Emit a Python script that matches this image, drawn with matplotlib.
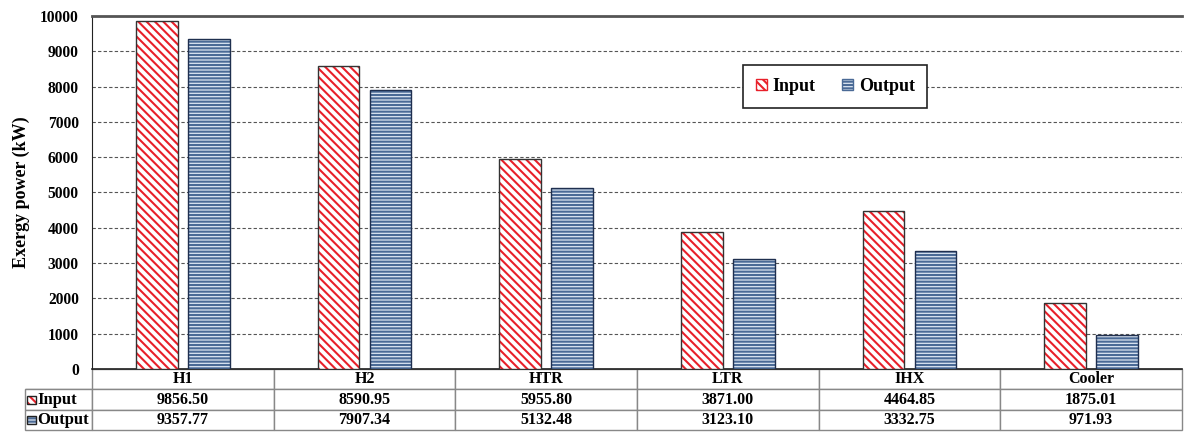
import numpy as np
import matplotlib.pyplot as plt
from matplotlib.patches import Rectangle

equipos = ['H1', 'H2', 'HTR', 'LTR', 'IHX', 'Cooler']
entrada = [9856.50, 8590.95, 5955.80, 3871.00, 4464.85, 1875.01]
salida = [9357.77, 7907.34, 5132.48, 3123.10, 3332.75, 971.93]
series = ['Input', 'Output']

plt.rcParams['font.family'] = ['Liberation Serif', 'DejaVu Serif']
plt.rcParams['font.weight'] = 'bold'
plt.rcParams['hatch.linewidth'] = 1.5

fig = plt.figure(figsize=(11.88, 4.33), dpi=100)
ax = fig.add_axes([92 / 1188, 1 - 369 / 433, 1090 / 1188, 353 / 433])

x = np.arange(len(equipos))
ancho = 0.23
desp = 0.143

rojo = '#e8202a'
azul_fondo = '#dbe5f1'
azul_linea = '#4a6a96'

# barras con trama (el color de la trama sale del edgecolor)
ax.bar(x - desp, entrada, ancho, color='white', edgecolor=rojo, hatch='\\\\\\\\', linewidth=0, zorder=3)
ax.bar(x - desp, entrada, ancho, fill=False, edgecolor='#333333', linewidth=1.0, zorder=4)
ax.bar(x + desp, salida, ancho, color=azul_fondo, edgecolor=azul_linea, hatch='-----', linewidth=0, zorder=3)
ax.bar(x + desp, salida, ancho, fill=False, edgecolor='#1f2f4f', linewidth=1.0, zorder=4)

ax.set_xlim(-0.5, len(equipos) - 0.5)
ax.set_ylim(0, 10000)
ax.set_yticks(np.arange(0, 10001, 1000))
ax.tick_params(axis='y', length=0, labelsize=11.2, pad=9.5)
ax.set_xticks([])
for lbl in ax.get_yticklabels():
    lbl.set_fontweight('bold')
ax.yaxis.grid(True, linestyle=(0, (3, 2)), color='#555555', linewidth=0.8, zorder=0)
ax.set_axisbelow(True)
ax.set_ylabel('Exergy power (kW)', fontsize=13, fontweight='bold')
ax.yaxis.set_label_coords(-0.057, 0.5)

ax.spines['right'].set_visible(False)
ax.spines['top'].set_color('#555555')
ax.spines['top'].set_linewidth(2)
ax.spines['left'].set_color('#222222')
ax.spines['bottom'].set_color('#222222')
ax.spines['bottom'].set_linewidth(1.2)

# leyenda
h1 = Rectangle((0, 0), 1, 1, facecolor='white', edgecolor=rojo, hatch='\\\\\\\\')
h2 = Rectangle((0, 0), 1, 1, facecolor=azul_fondo, edgecolor=azul_linea, hatch='-----')
leg = ax.legend([h1, h2], series, loc='center', bbox_to_anchor=(0.682, 0.80), ncol=2,
                fancybox=False, framealpha=1, edgecolor='#222222',
                prop={'family': 'Liberation Serif', 'weight': 'bold', 'size': 13},
                handlelength=0.6, handleheight=0.6, handletextpad=0.3, columnspacing=1.5,
                borderpad=0.7, borderaxespad=0)
leg.get_frame().set_linewidth(1.2)

# tabla de datos debajo del gráfico
celdas = [[''] + equipos,
          ['Input'] + ['%.2f' % v for v in entrada],
          ['Output'] + ['%.2f' % v for v in salida]]
izq = (92 - 25) / 1090
anchos = [izq] + [1 / 6] * 6
tabla = ax.table(cellText=celdas, colWidths=anchos, cellLoc='center',
                 bbox=[-izq, -61 / 353, 1 + izq, 61 / 353])
tabla.auto_set_font_size(False)
for (f, c), celda in tabla.get_celld().items():
    celda.set_edgecolor('#888888')
    celda.set_linewidth(1.0)
    celda.get_text().set_fontsize(11.5)
    celda.get_text().set_fontweight('bold')
    if f == 0 and c == 0:
        celda.visible_edges = 'B'
    if c == 0 and f > 0:
        celda.get_text().set_ha('left')
        celda.get_text().set_fontsize(12)
        celda.PAD = 0.19

# iconos de la leyenda en la tabla
for i, (fc, ec, tr) in enumerate([('white', rojo, '\\\\\\\\'), (azul_fondo, azul_linea, '-----')]):
    yc = 1 - (400 + 20 * i) / 433
    icono = Rectangle((27 / 1188, yc - 4 / 433), 9 / 1188, 8 / 433, transform=fig.transFigure,
                      facecolor=fc, edgecolor=ec, hatch=tr, linewidth=0, zorder=5)
    fig.patches.append(icono)
    borde = Rectangle((27 / 1188, yc - 4 / 433), 9 / 1188, 8 / 433, transform=fig.transFigure,
                      fill=False, edgecolor='#222222', linewidth=1, zorder=6)
    fig.patches.append(borde)

fig.savefig('out.png', dpi=100)
